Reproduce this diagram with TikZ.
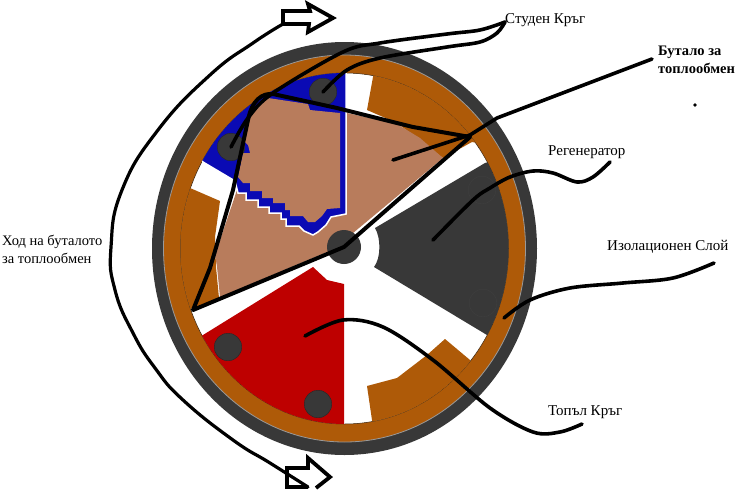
\documentclass[tikz,border=0pt]{standalone}
\usepackage{fontspec}
\setmainfont{Liberation Serif}
\definecolor{wgray}{HTML}{383838}
\definecolor{wbrown}{HTML}{AE5A08}
\definecolor{wblue}{HTML}{0A0AB4}
\definecolor{wtan}{HTML}{B87C5C}
\definecolor{wred}{HTML}{BE0000}
\tikzset{
  leader/.style={draw=black,line width=3.6pt,line cap=round,line join=round},
  hollowarrow/.style={draw=black,line width=3.8pt,line join=miter,fill=none},
  lbl/.style={anchor=west,inner sep=0pt,font=\fontsize{15}{17}\selectfont},
  lblb/.style={lbl,font=\fontsize{14.5}{18}\selectfont\bfseries,align=left},
  pin/.style={circle,fill=wgray,draw=wgray!70!black,line width=.4pt,minimum size=27.5pt,inner sep=0pt},
  pinx/.style={pin,draw=black!75,line width=.3pt}
}
\begin{document}
\begin{tikzpicture}[x=1pt,y=-1pt]
\useasboundingbox[fill=white] (0,0) rectangle (742,499);
% casing
\coordinate (ctr) at (344.5,248.5);
\fill[wgray] (ctr) ellipse [x radius=192.5pt,y radius=206.5pt];
\draw[fill=wbrown,draw=gray!80,line width=.8pt] (ctr) ellipse [x radius=181pt,y radius=193.5pt];
\draw[fill=white,draw=black!70!wbrown,line width=.5pt] (ctr) ellipse [x radius=164pt,y radius=175.5pt];
\begin{scope}
\clip (ctr) ellipse [x radius=164pt,y radius=175.5pt];
% brown blocks
\fill[wbrown] (373,60) -- (373,77) -- (367,110) -- (397,123) -- (443,158) -- (472,142) -- (520,150) -- (500,60) -- cycle;
\fill[wbrown] (190,188) -- (220,201) -- (215,237) -- (216,267) -- (219,298) -- (193,308) -- (160,320) -- (160,170) -- cycle;
\fill[wbrown] (367,386) -- (397,378) -- (427,355) -- (445,339) -- (470,360) -- (500,430) -- (372,440) -- (372,420) -- cycle;
% regenerator
\fill[wgray] (375,228) -- (485,163) -- (530,150) -- (530,350) -- (487,335) -- (374,267) .. controls (381,258) and (381,238) .. cycle;
% hot space
\fill[wred] (313,267) -- (327,280) -- (344,284) -- (344,440) -- (180,440) -- (170,352) -- (203,335) -- cycle;
% displacer, outer part
\fill[wtan] (347,113) -- (397,124) -- (420,138) -- (443,158) -- (353,233) -- (344,247) -- (327,252) -- (220,297) -- (217,267) -- (215,255) -- (237,190) -- cycle;
% cold space
\filldraw[fill=wblue,draw=white,line width=1.5pt] (346,50) -- (346,214) -- (331,217) -- (326,225) -- (318,232) -- (313,235) -- (304,231) -- (299,226) -- (286,226) -- (286,219) -- (281,219) -- (281,213) -- (269,213) -- (269,207) -- (258,207) -- (258,200) -- (246,200) -- (246,193) -- (238,193) -- (235,181) -- (203,162) -- (180,140) -- (250,50) -- cycle;
% displacer, inner part
\fill[wtan] (252,110) -- (268,98) -- (308,104) -- (310,110) -- (340,113) -- (340,208) -- (327,209) -- (322,216) -- (315,222) -- (308,222) -- (303,216) -- (290,216) -- (290,210) -- (285,210) -- (285,203) -- (273,203) -- (273,198) -- (262,198) -- (262,191) -- (250,191) -- (250,183) -- (243,183) -- (238,177) -- (243,153) -- (250,153) -- (248,145) -- (243,140) -- cycle;
\end{scope}
% pins and shaft
\node[pin] (coldA) at (323,92) {};
\node[pin] (coldB) at (231,147) {};
\node[pin] (hotA) at (228,347) {};
\node[pin] (hotB) at (318,404) {};
\node[pinx] (regA) at (482,190) {};
\node[pinx] (regB) at (483,303) {};
\node[circle,fill=wgray,minimum size=34pt,inner sep=0pt] (shaft) at (344,247) {};
% labels
\node[lbl] (lcold) at (505,20) {Студен Кръг};
\node[lblb,anchor=north west] (lpiston) at (658,46) {Бутало за\\топлообмен};
\node[lbl] (lregen) at (548,152) {Регенератор};
\node[lbl] (liso) at (607,247) {Изолационен Слой};
\node[lbl] (lhot) at (548,412) {Топъл Кръг};
\node[lbl,align=left,font=\fontsize{14.5}{18}\selectfont] (lstroke) at (2,249) {Ход на буталото\\за топлообмен};
\fill[black] (695,105) circle (1.8pt);
% named leader points
\coordinate (tA) at (193,310);
\coordinate (tB) at (470,137);
\coordinate (ecold) at (505,22);
\coordinate (episton) at (652,59);
\coordinate (sreg) at (433,240);
\coordinate (ereg) at (610,162);
\coordinate (siso) at (504,318);
\coordinate (eiso) at (714,263);
\coordinate (shot) at (305,336);
\coordinate (ehot) at (582,424);
\coordinate (spis) at (393,160);
% displacer outline
\draw[leader,line width=4pt] (shaft.center) -- (tA) -- (210,268) -- (233,190) -- (248,120) .. controls (252,100) and (262,93) .. (273,94) -- (337,108) -- (413,127) -- (tB) -- (shaft.center);
% leaders
\draw[leader] plot[smooth,tension=.55] coordinates {(coldB.center) (248,118) (273,93) (343,52) (380,43) (447,34) (480,30) (ecold)};
\draw[leader] plot[smooth,tension=.55] coordinates {(coldA.center) (347,70) (380,58) (447,47) (480,42) (497,33) (ecold)};
\draw[leader] (spis) -- (470,135) -- (497,118) -- (episton);
\draw[leader] plot[smooth,tension=.55] coordinates {(sreg) (473,200) (490,188) (510,177) (533,171) (553,173) (577,182) (593,177) (ereg)};
\draw[leader] plot[smooth,tension=.55] coordinates {(siso) (530,300) (570,288) (623,283) (673,278) (eiso)};
\draw[leader] plot[smooth,tension=.55] coordinates {(shot) (343,320) (383,327) (433,360) (490,408) (533,432) (560,432) (ehot)};
% stroke arc and arrows
\coordinate (arrT) at (283,24);
\coordinate (arrB) at (308,487);
\draw[hollowarrow] (283,11) -- (310,11) -- (308,4) -- (333,18) -- (308,32) -- (309,24) -- (arrT) -- cycle;
\draw[leader,line width=3.2pt] plot[smooth,tension=.8] coordinates {(arrT) (253,43) (210,75) (158,130) (122,190) (111,247) (115,290) (133,333) (155,368) (183,400) (233,440) (270,463) (arrB)};
\draw[hollowarrow] (316,488) -- (330,477) -- (308,458) -- (308,468) -- (287,468) -- (287,487) -- (arrB);
\end{tikzpicture}
\end{document}
